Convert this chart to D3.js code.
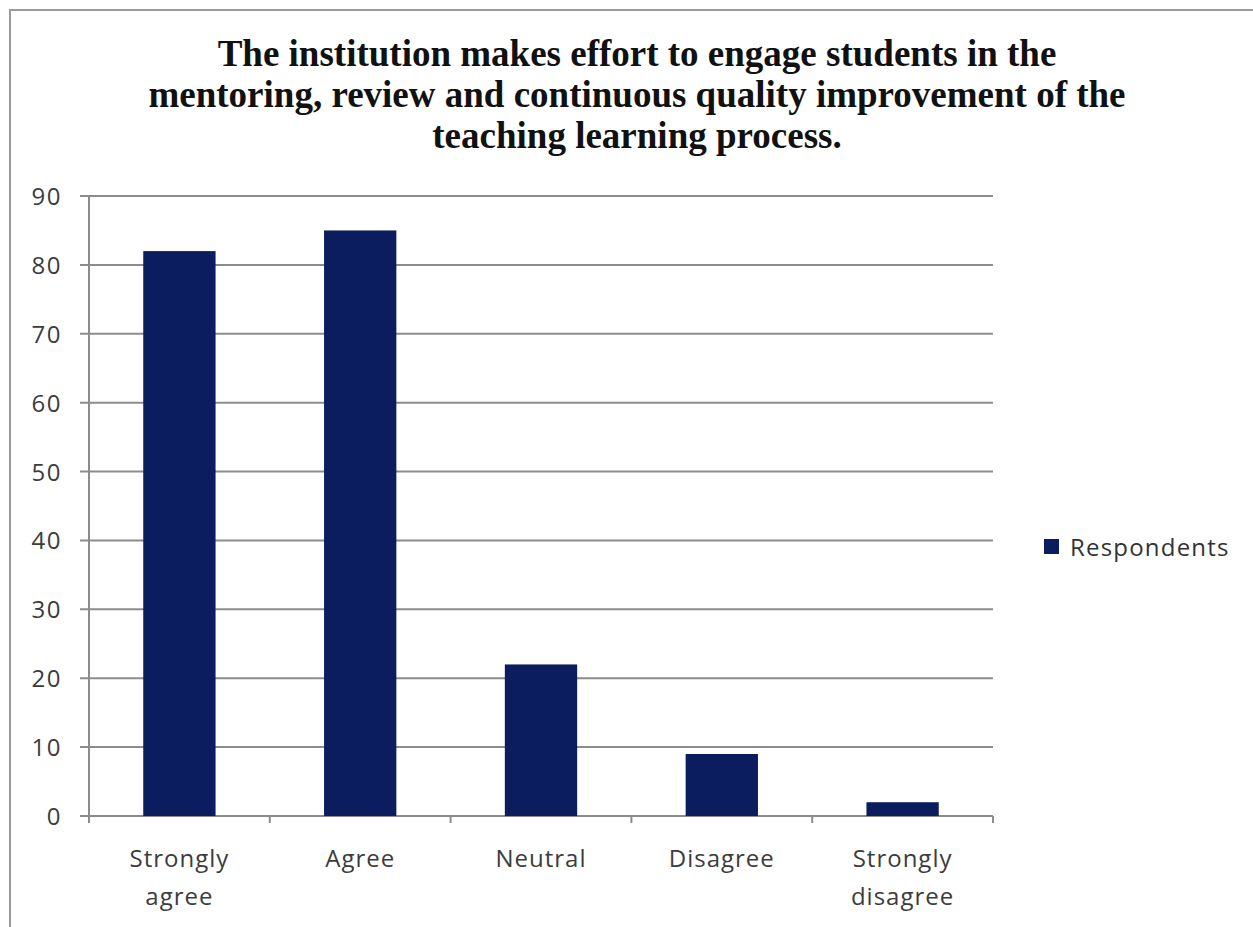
<!DOCTYPE html>
<html><head><meta charset="utf-8">
<script src="https://cdn.jsdelivr.net/npm/d3@7"></script>
<style>body{margin:0;background:#fff}svg{display:block}</style>
</head><body>
<script>
const categories = [["Strongly","agree"],["Agree"],["Neutral"],["Disagree"],["Strongly","disagree"]];
const values = [82, 85, 22, 9, 2];
const yTicks = [0,10,20,30,40,50,60,70,80,90];
const seriesName = "Respondents";
const titleLines = ["The institution makes effort to engage students in the",
  "mentoring, review and continuous quality improvement of the",
  "teaching learning process."];

const W = 1253, H = 927;
const svg = d3.select("body").append("svg").attr("width", W).attr("height", H);
svg.append("rect").attr("x",10).attr("y",10).attr("width",W+20).attr("height",H+20)
  .attr("fill","#fff").attr("stroke","#9a9a9a").attr("stroke-width",2);

const pLeft = 89, pRight = 993, pTop = 196, pBottom = 816;
const keys = categories.map((c,i)=>i);
const x = d3.scaleBand().domain(keys).range([pLeft,pRight]).paddingInner(0.6).paddingOuter(0.3);
const y = d3.scaleLinear().domain([0,90]).range([pBottom,pTop]);
const sans = "Open Sans, sans-serif";

// gridlines
svg.append("g").selectAll("line").data(yTicks).join("line")
  .attr("x1",pLeft-9).attr("x2",pRight).attr("y1",d=>y(d)).attr("y2",d=>y(d))
  .attr("stroke","#8c8c8c").attr("stroke-width",2);

// y axis
svg.append("line").attr("x1",pLeft).attr("x2",pLeft).attr("y1",pTop).attr("y2",pBottom+6)
  .attr("stroke","#8c8c8c").attr("stroke-width",2);
svg.append("g").selectAll("text").data(yTicks).join("text")
  .attr("x",62).attr("y",d=>y(d)+9).attr("text-anchor","end")
  .attr("font-family",sans).attr("font-size",24).attr("letter-spacing",1.5).attr("fill","#3c3c3c")
  .text(d=>d);

// bars
svg.append("g").selectAll("rect").data(values).join("rect")
  .attr("x",(d,i)=>x(i)).attr("width",x.bandwidth())
  .attr("y",d=>y(d)).attr("height",d=>y(0)-y(d))
  .attr("fill","#0c1d5f");

// x-axis category ticks
const boundaries = d3.range(categories.length+1).map(i=>pLeft + i*(pRight-pLeft)/categories.length);
svg.append("g").selectAll("line").data(boundaries).join("line")
  .attr("x1",d=>d).attr("x2",d=>d).attr("y1",pBottom).attr("y2",pBottom+7)
  .attr("stroke","#8c8c8c").attr("stroke-width",2);

// x labels
const xl = svg.append("g").selectAll("text").data(categories).join("text")
  .attr("x",(d,i)=>x(i)+x.bandwidth()/2).attr("y",867).attr("text-anchor","middle")
  .attr("font-family",sans).attr("font-size",24).attr("letter-spacing",1).attr("fill","#3c3c3c");
xl.selectAll("tspan").data(d=>d).join("tspan")
  .attr("x",function(){return this.parentNode.getAttribute("x");})
  .attr("dy",(d,i)=>i===0?0:38).text(d=>d);

// title
svg.append("g").selectAll("text").data(titleLines).join("text")
  .attr("x",637).attr("y",(d,i)=>66+i*41).attr("text-anchor","middle")
  .attr("font-family","Liberation Serif, Times New Roman, serif").attr("font-weight","bold")
  .attr("font-size",37).attr("fill","#111").text(d=>d);

// legend
svg.append("rect").attr("x",1044).attr("y",539).attr("width",15).attr("height",15).attr("fill","#0c1d5f");
svg.append("text").attr("x",1070).attr("y",556)
  .attr("font-family",sans).attr("font-size",24).attr("letter-spacing",1.2).attr("fill","#333").text(seriesName);
</script>
</body></html>
